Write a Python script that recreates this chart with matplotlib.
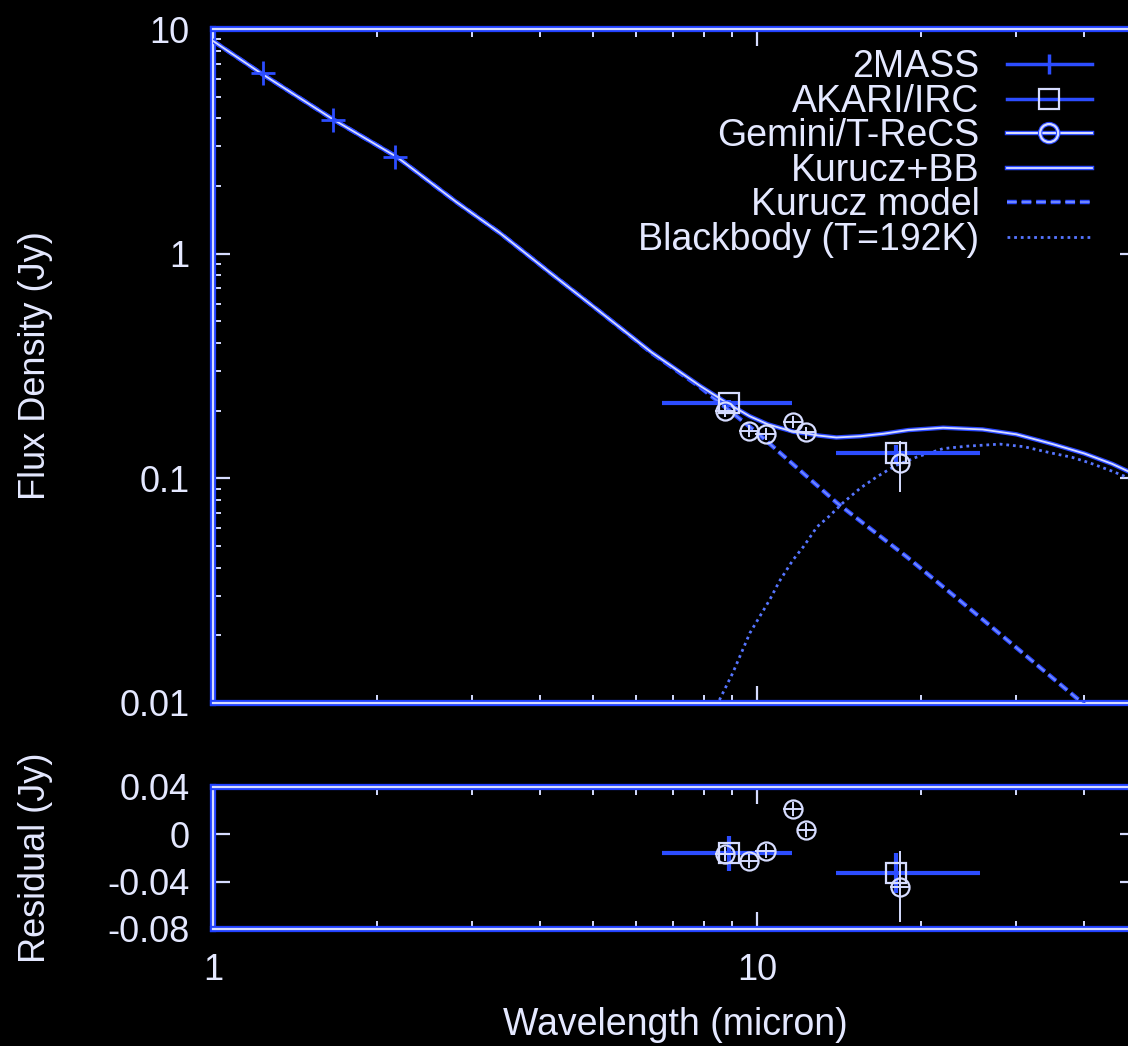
import matplotlib
matplotlib.use('Agg')
import matplotlib.pyplot as plt
import matplotlib.patheffects as pe
from matplotlib.lines import Line2D
from matplotlib.ticker import FuncFormatter, NullFormatter, FixedLocator

# photometry
twomass_wl = [1.235, 1.662, 2.159]
twomass_flux = [6.40, 3.95, 2.69]
twomass_err = [0.15, 0.08, 0.05]

akari_wl = [8.9, 18.0]
akari_flux = [0.216, 0.129]
akari_xlo = [2.2, 4.0]
akari_xhi = [2.7, 7.7]
akari_err = [0.008, 0.012]
akari_res = [-0.016, -0.033]
akari_res_err = [0.015, 0.017]

gemini_wl = [8.74, 9.69, 10.38, 11.66, 12.33, 18.30]
gemini_flux = [0.200, 0.163, 0.158, 0.179, 0.160, 0.117]
gemini_err = [0.012, 0.010, 0.010, 0.011, 0.010, 0.030]
gemini_xerr = [0.35, 0.40, 0.45, 0.50, 0.50, 0.75]
gemini_res = [-0.0166, -0.0225, -0.0141, 0.0214, 0.0036, -0.0444]
gemini_res_err = [0.006, 0.006, 0.006, 0.006, 0.006, 0.030]

# models
kurucz_wl = [1.0, 1.215, 1.66, 2.18, 2.8, 3.37, 4.2, 5.15, 6.4, 7.86, 10.0, 14.03, 18.87,
             25.0, 39.7, 50.0]
kurucz_flux = [8.85, 6.44, 3.97, 2.69, 1.70, 1.236, 0.81, 0.551, 0.362, 0.255, 0.160, 0.0778,
               0.0447, 0.0255, 0.0100, 0.0063]

bb_wl = [8.3, 8.48, 9.03, 9.71, 10.56, 11.0, 11.65, 12.2, 12.9, 13.6, 14.4, 15.5, 16.6, 18.0,
         19.7, 22.0, 24.3, 28.0, 31.0, 34.6, 38.0, 41.0, 45.0, 50.0]
bb_flux = [0.0085, 0.0100, 0.0136, 0.0205, 0.0288, 0.0348, 0.0433, 0.0499, 0.0608, 0.068,
           0.0778, 0.0905, 0.1014, 0.114, 0.1245, 0.1356, 0.139, 0.142, 0.1383, 0.130, 0.124,
           0.117, 0.1076, 0.097]

sum_wl = [1.0, 1.215, 1.66, 2.18, 2.8, 3.37, 4.2, 5.15, 6.4, 7.86, 8.77, 9.7, 10.47, 11.0,
          11.7, 12.4, 13.0, 14.0, 15.5, 17.1, 19.0, 22.0, 26.0, 30.0, 35.0, 40.0, 45.0, 50.0]
sum_flux = [8.85, 6.44, 3.97, 2.69, 1.70, 1.236, 0.81, 0.551, 0.364, 0.258, 0.218, 0.189,
            0.174, 0.168, 0.161, 0.158, 0.155, 0.152, 0.154, 0.158, 0.164, 0.168, 0.165, 0.157,
            0.142, 0.129, 0.116, 0.103]

blue = '#2c4dff'
pale = '#d6dcff'
txt = '#e4e8ff'

plt.rcParams['font.family'] = ['Liberation Sans', 'DejaVu Sans']
plt.rcParams['font.size'] = 26

glow = [pe.Stroke(linewidth=4.5, foreground='#2040ff'), pe.Normal()]
glow_thin = [pe.Stroke(linewidth=3.2, foreground='#2a48ff'), pe.Normal()]

fig = plt.figure(figsize=(11.28, 10.46), dpi=100, facecolor='black')
ax1 = fig.add_axes([213/1128, 1 - 703/1046, 924/1128, 674/1046])
ax2 = fig.add_axes([213/1128, 1 - 929/1046, 924/1128, 142/1046])

for ax in (ax1, ax2):
    ax.set_facecolor('black')
    ax.set_xscale('log')
    ax.set_xlim(1, 50)
    for s in ax.spines.values():
        s.set_color(pale)
        s.set_linewidth(1.6)
        s.set_path_effects(glow)
    ax.tick_params(which='both', direction='in', top=True, right=True, colors=pale,
                   labelcolor=txt, labelsize=26)
    ax.tick_params(which='major', length=12, width=1.6)
    ax.tick_params(which='minor', length=6, width=1.4)
    ax.xaxis.set_major_formatter(FuncFormatter(lambda v, p: f'{v:g}'))
    ax.xaxis.set_minor_formatter(NullFormatter())

# main panel
ax1.set_yscale('log')
ax1.set_ylim(0.01, 10)
ax1.yaxis.set_major_formatter(FuncFormatter(lambda v, p: f'{v:g}'))
ax1.yaxis.set_minor_formatter(NullFormatter())
ax1.tick_params(axis='x', labelbottom=False)
ax1.tick_params(axis='y', pad=17)

dash = (0, (5, 2.5))
dot = (0, (1, 1.4))
ax1.plot(kurucz_wl, kurucz_flux, color='#7088ff', lw=1.4, linestyle=dash,
         path_effects=glow_thin, zorder=3)
ax1.plot(bb_wl, bb_flux, color='#5675ff', lw=2.0, linestyle=dot, zorder=3)
ax1.plot(sum_wl, sum_flux, color=pale, lw=1.3, path_effects=glow_thin, zorder=4)

ax1.errorbar(twomass_wl, twomass_flux, yerr=twomass_err, fmt='+', ms=17, mew=2,
             color=blue, mec=blue, ecolor=blue, elinewidth=2, capsize=0, zorder=5)
ax1.errorbar(akari_wl, akari_flux, xerr=[akari_xlo, akari_xhi], yerr=akari_err, fmt='s',
             ms=14, mfc='none', mec=pale, mew=1.6, ecolor=blue, elinewidth=3, capsize=0, zorder=5)
ax1.errorbar(gemini_wl, gemini_flux, xerr=gemini_xerr, yerr=gemini_err, fmt='o', ms=13,
             mfc='none', mec=pale, mew=1.6, ecolor=pale, elinewidth=1.4, capsize=0, zorder=6)

ax1.set_ylabel('Flux Density (Jy)', color=txt, fontsize=26, va='center')
ax1.yaxis.set_label_coords(-0.1926, 0.5)

handles = [
    Line2D([], [], color=blue, lw=2.5, marker='|', ms=14, mew=2.5, mec=blue),
    Line2D([], [], color=blue, lw=2.5, marker='s', ms=14, mfc='none', mec=pale, mew=1.6),
    Line2D([], [], color=pale, lw=1.5, marker='o', ms=13, mfc='none', mec=pale, mew=1.6,
           path_effects=glow_thin),
    Line2D([], [], color=pale, lw=1.3, path_effects=glow_thin),
    Line2D([], [], color='#7088ff', lw=1.4, linestyle=dash, path_effects=glow_thin),
    Line2D([], [], color='#5675ff', lw=2.0, linestyle=dot),
]
labels = ['2MASS', 'AKARI/IRC', 'Gemini/T-ReCS', 'Kurucz+BB', 'Kurucz model',
          'Blackbody (T=192K)']
ax1.legend(handles, labels, loc='upper right', bbox_to_anchor=(0.951, 0.970),
           frameon=False, markerfirst=False, fontsize=27, labelspacing=-0.04,
           handlelength=2.27, handletextpad=0.72, borderpad=0, borderaxespad=0,
           numpoints=1, labelcolor=txt)

# residual panel
ax2.set_ylim(-0.08, 0.04)
ax2.yaxis.set_major_locator(FixedLocator([0.04, 0, -0.04, -0.08]))
ax2.yaxis.set_major_formatter(FuncFormatter(lambda v, p: f'{v:g}'))
ax2.tick_params(axis='y', pad=17)
ax2.tick_params(axis='x', pad=17)

ax2.errorbar(akari_wl, akari_res, xerr=[akari_xlo, akari_xhi], yerr=akari_res_err, fmt='s',
             ms=14, mfc='none', mec=pale, mew=1.6, ecolor=blue, elinewidth=3, capsize=0, zorder=5)
ax2.errorbar(gemini_wl, gemini_res, xerr=gemini_xerr, yerr=gemini_res_err, fmt='o', ms=13,
             mfc='none', mec=pale, mew=1.6, ecolor=pale, elinewidth=1.4, capsize=0, zorder=6)

ax2.set_ylabel('Residual (Jy)', color=txt, fontsize=26, va='center')
ax2.yaxis.set_label_coords(-0.1926, 0.5)
ax2.set_xlabel('Wavelength (micron)', color=txt, fontsize=27, labelpad=14)

fig.savefig('out.png', dpi=100, facecolor='black')
